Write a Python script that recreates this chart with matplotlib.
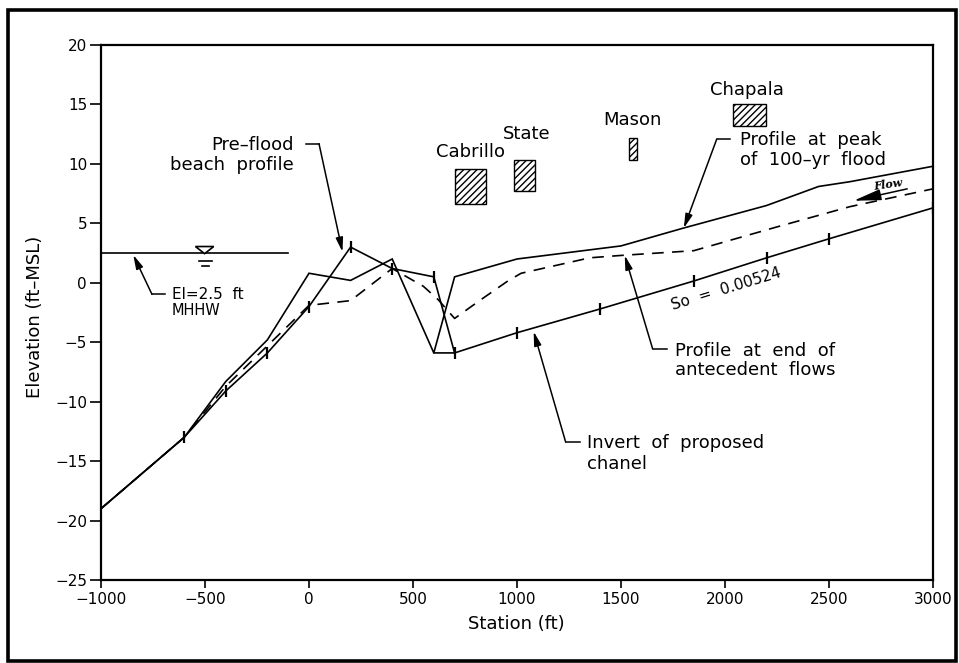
import matplotlib
matplotlib.use("Agg")
import matplotlib.pyplot as plt
from matplotlib.patches import Rectangle, Polygon

# ---------------- data ----------------
# Profile at peak of 100-yr flood (solid)
flood_x = [-1000, -600, -400, -200, 0, 200, 400, 600, 700, 900, 1000, 1500, 1800, 2200, 2450, 2600, 3000]
flood_y = [-19.0, -13.0, -8.3, -4.8, 0.8, 0.2, 2.0, -5.9, 0.5, 1.5, 2.0, 3.1, 4.6, 6.5, 8.1, 8.5, 9.8]

# Pre-flood beach profile (solid, with survey ticks)
pre_x = [-1000, -600, -400, -200, 0, 200, 400, 600, 700]
pre_y = [-19.0, -13.0, -9.1, -5.9, -2.0, 3.0, 1.2, 0.5, -5.9]

# Invert of proposed channel (solid, with survey ticks)
inv_x = [600, 700, 1000, 1400, 1850, 2200, 2500, 3000]
inv_y = [-5.9, -5.9, -4.2, -2.2, 0.15, 2.1, 3.7, 6.3]

# Profile at end of antecedent flows (dashed)
ante_x = [-1000, -600, -400, -200, 0, 200, 400, 550, 620, 700, 820, 960, 1020, 1350, 1500, 1850, 2250, 2600, 3000]
ante_y = [-19.0, -13.0, -8.7, -5.3, -1.9, -1.5, 1.2, -0.3, -1.4, -3.0, -1.5, 0.2, 0.8, 2.1, 2.3, 2.7, 4.7, 6.4, 7.9]

# Mean higher high water
mhhw_level = 2.5
mhhw_x = [-1000, -100]

# Bridges (hatched boxes)
bldg_names = ["Cabrillo", "State", "Mason", "Chapala"]
bldg_x0 = [700, 985, 1540, 2040]
bldg_x1 = [850, 1085, 1575, 2195]
bldg_y0 = [6.6, 7.7, 10.3, 13.2]
bldg_y1 = [9.6, 10.3, 12.2, 15.0]
bldg_lx = [778, 1046, 1554, 2106]
bldg_ly = [10.6, 12.1, 13.3, 15.8]

x_ticks = [-1000, -500, 0, 500, 1000, 1500, 2000, 2500, 3000]
y_ticks = [-25, -20, -15, -10, -5, 0, 5, 10, 15, 20]

# ---------------- figure ----------------
plt.rcParams['font.family'] = ['DejaVu Sans']
plt.rcParams['hatch.linewidth'] = 1.0
fig = plt.figure(figsize=(9.59, 6.63), dpi=100)
W, H = 959, 663
ax = fig.add_axes([101 / W, 1 - 580 / H, (933 - 101) / W, (580 - 45) / H])
ax.set_xlim(-1000, 3000)
ax.set_ylim(-25, 20)

lw = 1.2
ax.plot(flood_x, flood_y, color='black', lw=lw, solid_joinstyle='miter')
ax.plot(pre_x, pre_y, color='black', lw=lw)
ax.plot(pre_x[1:], pre_y[1:], ls='none', marker='|', ms=9, mew=1.6, color='black')
ax.plot(inv_x, inv_y, color='black', lw=lw)
ax.plot(inv_x[2:], inv_y[2:], ls='none', marker='|', ms=9, mew=1.6, color='black')
ax.plot(ante_x, ante_y, color='black', lw=lw, ls=(0, (7, 5)))

# MHHW water line and symbol
ax.plot(mhhw_x, [mhhw_level, mhhw_level], color='black', lw=1.2)
ax.add_patch(Polygon([(-546, 3.05), (-458, 3.05), (-502, 2.45)], closed=True,
                     facecolor='white', edgecolor='black', lw=1.2, zorder=5))
ax.plot([-530, -467], [1.8, 1.8], color='black', lw=1.2)
ax.plot([-514, -482], [1.39, 1.39], color='black', lw=1.2)

# Bridges
for name, x0, x1, y0, y1, lx, ly in zip(bldg_names, bldg_x0, bldg_x1, bldg_y0, bldg_y1, bldg_lx, bldg_ly):
    ax.add_patch(Rectangle((x0, y0), x1 - x0, y1 - y0, facecolor='white',
                           edgecolor='black', hatch='/////', lw=1.0))
    ax.text(lx, ly, name, ha='center', va='baseline', fontsize=13)

arrow = dict(arrowstyle='-|>,head_length=0.7,head_width=0.18', mutation_scale=12,
             color='black', lw=1.1, shrinkA=0, shrinkB=0)
fs = 13

# Pre-flood beach profile
ax.text(-72, 11.15, "Pre\u2013flood", ha='right', va='baseline', fontsize=fs)
ax.text(-72, 9.5, "beach  profile", ha='right', va='baseline', fontsize=fs)
ax.plot([-14, 48], [11.7, 11.7], color='black', lw=1.1)
ax.annotate("", xy=(161, 2.6), xytext=(48, 11.7), arrowprops=arrow)

# Peak of 100-yr flood
ax.text(2072, 11.6, "Profile  at  peak", ha='left', va='baseline', fontsize=fs)
ax.text(2072, 9.9, "of  100\u2013yr  flood", ha='left', va='baseline', fontsize=fs)
ax.plot([1960, 2024], [12.07, 12.07], color='black', lw=1.1)
ax.annotate("", xy=(1802, 4.6), xytext=(1960, 12.07), arrowprops=arrow)

# End of antecedent flows
ax.text(1759, -6.16, "Profile  at  end  of", ha='left', va='baseline', fontsize=fs)
ax.text(1759, -7.76, "antecedent  flows", ha='left', va='baseline', fontsize=fs)
ax.plot([1652, 1719], [-5.55, -5.55], color='black', lw=1.1)
ax.annotate("", xy=(1518, 2.3), xytext=(1652, -5.55), arrowprops=arrow)

# Invert of proposed channel
ax.text(1335, -13.93, "Invert  of  proposed", ha='left', va='baseline', fontsize=fs)
ax.text(1335, -15.64, "chanel", ha='left', va='baseline', fontsize=fs)
ax.plot([1234, 1301], [-13.4, -13.4], color='black', lw=1.1)
ax.annotate("", xy=(1080, -4.1), xytext=(1234, -13.4), arrowprops=arrow)

# MHHW annotation
ax.text(-660, -1.39, "El=2.5  ft", ha='left', va='baseline', fontsize=11)
ax.text(-660, -2.7, "MHHW", ha='left', va='baseline', fontsize=10.5)
ax.plot([-755, -691], [-0.97, -0.97], color='black', lw=1.1)
ax.annotate("", xy=(-845, 2.35), xytext=(-755, -0.97), arrowprops=arrow)

# Slope label
ax.text(2005, -0.5, "So  =  0.00524", rotation=17, rotation_mode='anchor',
        ha='center', va='center', fontsize=11)

# Flow arrow
ax.annotate("", xy=(2618, 6.9), xytext=(2876, 7.9),
            arrowprops=dict(arrowstyle='-|>,head_length=1.4,head_width=0.28',
                            mutation_scale=12, color='black', lw=1.1,
                            shrinkA=0, shrinkB=0))
ax.text(2786, 8.3, "Flow", rotation=8, ha='center', va='center', fontsize=8,
        family='DejaVu Serif', style='italic', fontweight='bold')

# axes styling
ax.set_xticks(x_ticks)
ax.set_yticks(y_ticks)
ax.set_xticklabels([f"{v:d}".replace('-', '\u2212') for v in x_ticks])
ax.set_yticklabels([f"{v:d}".replace('-', '\u2212') for v in y_ticks])
ax.tick_params(axis='both', direction='out', labelsize=11, width=1.2, color='black')
ax.tick_params(axis='y', length=8, pad=2)
ax.tick_params(axis='x', length=6, pad=3)
for s in ax.spines.values():
    s.set_linewidth(1.6)

fig.text(516 / W, 1 - 624 / H, "Station (ft)", ha='center', va='center', fontsize=13)
fig.text(35 / W, 1 - 317 / H, "Elevation (ft\u2013MSL)", ha='center', va='center',
         rotation=90, fontsize=13)

# outer frame
fig.patches.append(Rectangle((8 / W, 1 - 661 / H), (956 - 8) / W, (661 - 10) / H,
                             transform=fig.transFigure, fill=False,
                             edgecolor='black', lw=2.6))

fig.savefig("out.png", dpi=100)
